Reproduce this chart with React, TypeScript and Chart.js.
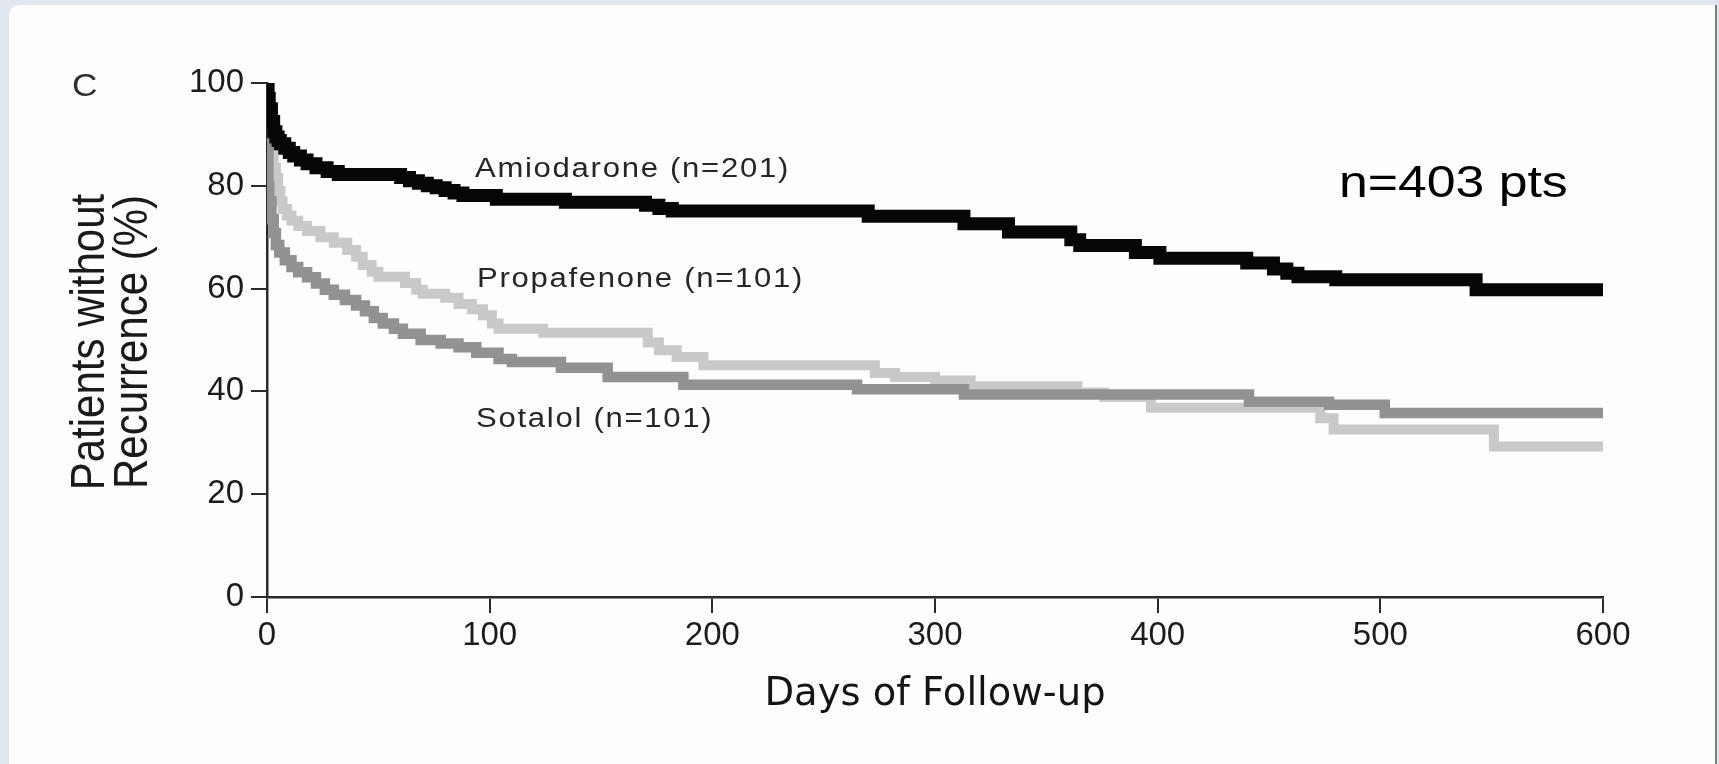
import React, { useEffect, useRef } from 'react';
import { Chart, registerables } from 'chart.js';

Chart.register(...registerables);

// ---- data ----
const amiodaroneDays = [0, 0.5, 1, 2, 3, 4, 5, 6, 8, 10, 12, 15, 18, 22, 27, 32, 60, 64, 68, 72, 76, 80, 84, 88, 103, 134, 170, 176, 182, 270, 313, 333, 361, 365, 390, 401, 440, 452, 458, 463, 480, 543, 600];
const amiodaroneSurvival = [100, 97, 95, 92.5, 90.5, 89.5, 88.8, 88.2, 87.3, 86.5, 85.8, 85, 84.3, 83.5, 82.8, 82.2, 81.6, 81, 80.5, 80, 79.6, 79.1, 78.6, 78.1, 77.4, 76.8, 76.2, 75.6, 75.1, 74.1, 72.6, 71.0, 69.5, 68.4, 67.0, 65.9, 65.0, 63.8, 63.0, 62.3, 61.7, 59.8, 59.8];

const propafenoneDays = [0, 0.3, 0.6, 1.5, 3, 4, 5, 6, 7, 9, 11, 14, 18, 24, 30, 36, 40, 43, 47, 50, 62, 67, 70, 80, 86, 92, 97, 101, 104, 124, 171, 176, 184, 196, 273, 282, 300, 316, 364, 376, 397, 473, 479, 551, 600];
const propafenoneSurvival = [100, 92, 89, 86.5, 83.5, 81.5, 79, 77, 75.5, 74.2, 73.2, 72.2, 71.2, 70, 68.9, 67.5, 66.2, 64.6, 63.3, 62.3, 61.1, 59.8, 59, 58.2, 57, 56, 54.8, 53.2, 52.2, 51.4, 49.5, 48, 46.7, 45.1, 43.6, 42.8, 42.1, 41.0, 39.8, 38.9, 36.8, 34.8, 32.6, 29.3, 29.3];

const sotalolDays = [0, 0.3, 0.6, 1, 2, 3, 4, 5.5, 8, 11, 14, 18, 22, 26, 30, 35, 40, 44, 48, 52, 57, 61, 69, 78, 86, 94, 104, 110, 132, 153, 187, 265, 313, 441, 477, 502, 600];
const sotalolSurvival = [100, 88, 80, 77, 73.5, 70.8, 68.5, 67, 65.5, 64.2, 63.2, 62.2, 61, 59.8, 58.8, 57.8, 56.7, 55.6, 54.3, 53.2, 52.2, 51.2, 50, 49.3, 48.6, 47.5, 46.3, 45.7, 44.6, 42.8, 41.3, 40.4, 39.4, 38.0, 37.4, 35.8, 35.8];

const xTickValues = [0, 100, 200, 300, 400, 500, 600];
const yTickValues = [0, 20, 40, 60, 80, 100];

const seriesLabelTexts = ['Amiodarone (n=201)', 'Propafenone (n=101)', 'Sotalol (n=101)'];
const totalLabelText = 'n=403 pts';
const panelLetter = 'C';
const xTitle = 'Days of Follow-up';
const yTitleLines = ['Patients without', 'Recurrence (%)'];

// annotation anchors (in data units: day, percent)
const seriesLabelAnchors = [
  { day: 93.4, pct: 81.7 },
  { day: 94.3, pct: 60.3 },
  { day: 93.9, pct: 33.1 },
];
const totalLabelAnchor = { day: 481.4, pct: 77.8 };

const toPoints = (days: number[], vals: number[]) => days.map((d, i) => ({ x: d, y: vals[i] }));

const annotationPlugin = {
  id: 'kmAnnotations',
  afterDatasetsDraw(chart: any) {
    const { ctx, chartArea } = chart;
    const xs = chart.scales.x;
    const ys = chart.scales.y;
    ctx.save();

    // series labels
    seriesLabelTexts.forEach((t, i) => {
      const a = seriesLabelAnchors[i];
      ctx.save();
      ctx.translate(xs.getPixelForValue(a.day), ys.getPixelForValue(a.pct));
      ctx.scale(1.15, 1);
      ctx.font = '27px "Liberation Sans", Arial, sans-serif';
      (ctx as any).letterSpacing = '1.5px';
      ctx.fillStyle = '#262626';
      ctx.textAlign = 'left';
      ctx.textBaseline = 'alphabetic';
      ctx.fillText(t, 0, 0);
      ctx.restore();
    });

    // total n label
    ctx.save();
    ctx.translate(xs.getPixelForValue(totalLabelAnchor.day), ys.getPixelForValue(totalLabelAnchor.pct));
    ctx.scale(1.15, 1);
    ctx.font = '45px "Liberation Sans", Arial, sans-serif';
    ctx.fillStyle = '#000';
    ctx.textAlign = 'left';
    ctx.textBaseline = 'alphabetic';
    ctx.fillText(totalLabelText, 0, 0);
    ctx.restore();

    // panel letter
    ctx.save();
    ctx.translate(chartArea.left - 195, chartArea.top + 13);
    ctx.scale(1.1, 1);
    ctx.font = '32px "Liberation Sans", Arial, sans-serif';
    ctx.fillStyle = '#2e2e2e';
    ctx.textAlign = 'left';
    ctx.textBaseline = 'alphabetic';
    ctx.fillText(panelLetter, 0, 0);
    ctx.restore();

    // y-axis title (two lines, rotated)
    ctx.save();
    ctx.translate(chartArea.left - 163, (chartArea.top + chartArea.bottom) / 2 + 2);
    ctx.rotate(-Math.PI / 2);
    ctx.scale(1, 1.15);
    ctx.font = '42px "Liberation Sans", Arial, sans-serif';
    ctx.fillStyle = '#1a1a1a';
    ctx.textAlign = 'center';
    ctx.textBaseline = 'alphabetic';
    yTitleLines.forEach((line, i) => ctx.fillText(line, 0, i * 37));
    ctx.restore();

    ctx.restore();
  },
};

export default function App() {
  const canvasRef = useRef<HTMLCanvasElement | null>(null);

  useEffect(() => {
    if (!canvasRef.current) return;
    const tickFont = { family: '"Liberation Sans", Arial, sans-serif', size: 33 };
    const axisColor = '#2a2a2a';
    const chart = new Chart(canvasRef.current, {
      type: 'line',
      data: {
        datasets: [
          {
            label: 'Amiodarone',
            data: toPoints(amiodaroneDays, amiodaroneSurvival),
            borderColor: '#060606',
            borderWidth: 13,
            stepped: 'before',
            pointRadius: 0,
            fill: false,
          },
          {
            label: 'Sotalol',
            data: toPoints(sotalolDays, sotalolSurvival),
            borderColor: '#929292',
            borderWidth: 10.5,
            stepped: 'before',
            pointRadius: 0,
            fill: false,
          },
          {
            label: 'Propafenone',
            data: toPoints(propafenoneDays, propafenoneSurvival),
            borderColor: '#c9c9c9',
            borderWidth: 10,
            stepped: 'before',
            pointRadius: 0,
            fill: false,
          },
        ],
      },
      options: {
        animation: false,
        responsive: false,
        devicePixelRatio: 1,
        layout: { padding: { left: 0, right: 116, top: 83, bottom: 0 } },
        plugins: {
          legend: { display: false },
          tooltip: { enabled: false },
          title: { display: false },
        },
        scales: {
          x: {
            type: 'linear',
            min: 0,
            max: 600,
            afterBuildTicks: (s: any) => {
              s.ticks = xTickValues.map((v) => ({ value: v }));
            },
            ticks: { font: tickFont, color: '#1c1c1c', padding: 3, maxRotation: 0, autoSkip: false },
            grid: { display: true, drawOnChartArea: false, drawTicks: true, tickLength: 16, color: axisColor, lineWidth: 2 },
            border: { display: true, color: axisColor, width: 2.5 },
            title: {
              display: true,
              text: xTitle,
              font: { family: '"DejaVu Sans", sans-serif', size: 38.5 },
              color: '#151515',
              padding: { top: 0, bottom: 46 },
            },
            afterFit: (s: any) => {
              s.height = 167;
            },
          },
          y: {
            type: 'linear',
            min: 0,
            max: 100,
            afterBuildTicks: (s: any) => {
              s.ticks = yTickValues.map((v) => ({ value: v }));
            },
            ticks: { font: tickFont, color: '#1c1c1c', padding: 7, autoSkip: false },
            grid: { display: true, drawOnChartArea: false, drawTicks: true, tickLength: 16, color: axisColor, lineWidth: 2 },
            border: { display: true, color: axisColor, width: 2.5 },
            afterFit: (s: any) => {
              s.width = 267;
            },
          },
        },
      },
      plugins: [annotationPlugin],
    } as any);
    return () => chart.destroy();
  }, []);

  return (
    <div style={{ position: 'fixed', left: 0, top: 0, width: 1719, height: 764, background: '#e1e5ee', overflow: 'hidden' }}>
      <div
        style={{
          position: 'absolute',
          left: 9,
          top: 5,
          width: 1706,
          height: 770,
          background: '#fdfdfd',
          borderTopLeftRadius: 10,
          borderRight: '2px solid #7c7c7c',
        }}
      />
      <canvas ref={canvasRef} width={1719} height={764} style={{ position: 'absolute', left: 0, top: 0 }} />
    </div>
  );
}
